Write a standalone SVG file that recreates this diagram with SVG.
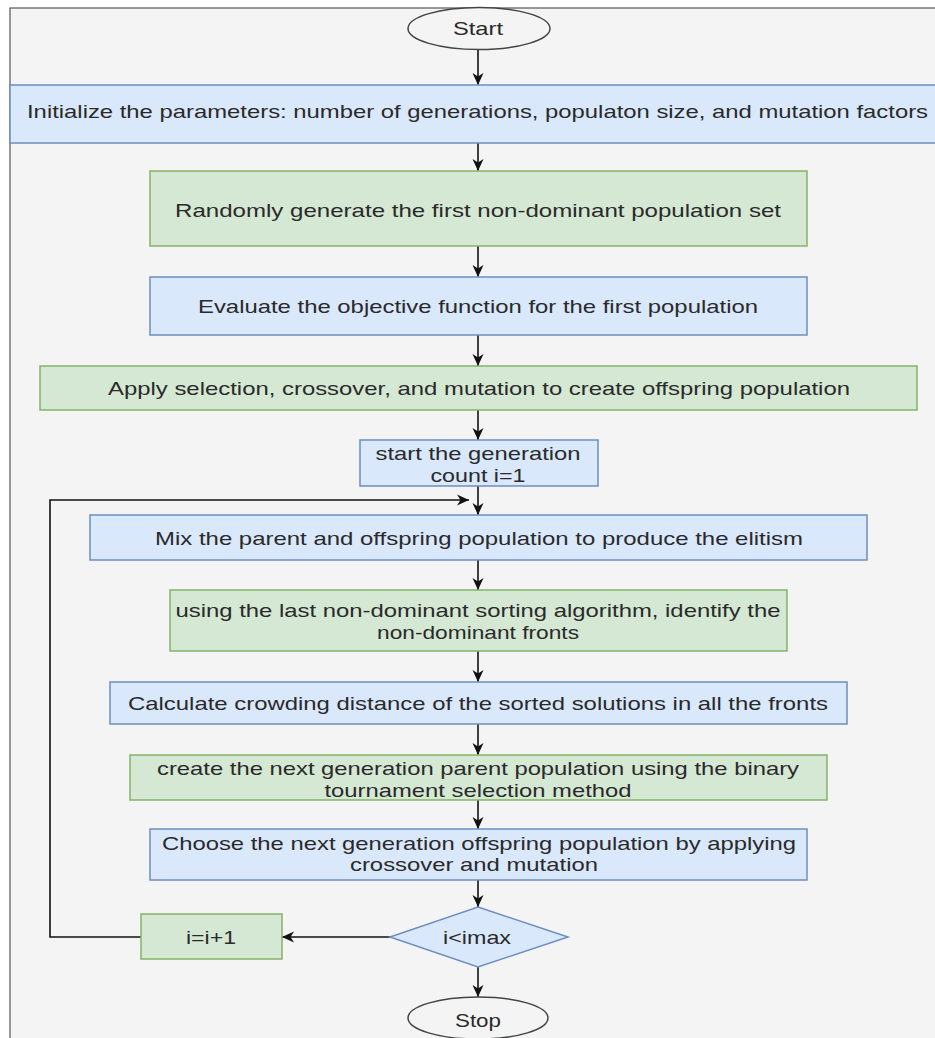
<svg xmlns="http://www.w3.org/2000/svg" width="935" height="1038" viewBox="0 0 935 1038">
<defs>
<style>
.blue{fill:#dae8fc;stroke:#6c8ebf;stroke-width:1.5}
.green{fill:#d5e8d4;stroke:#82b366;stroke-width:1.5}
.term{fill:#f4f4f4;stroke:#444444;stroke-width:1.5}
.t{font-family:"Liberation Sans",Arial,sans-serif;font-size:19px;fill:#2a2a2a;text-anchor:middle;dominant-baseline:central}
.c{fill:none;stroke:#111111;stroke-width:1.6}
</style>
<marker id="ah" viewBox="0 0 12 12" refX="12" refY="6" markerWidth="12" markerHeight="12" markerUnits="userSpaceOnUse" orient="auto">
<path d="M0,0.5 L12,6 L0,11.5 L3.5,6 Z" fill="#111111"/>
</marker>
</defs>
<rect x="0" y="0" width="935" height="1038" fill="#ffffff"/>
<rect x="10" y="8" width="940" height="1050" fill="#f4f4f4" stroke="#555555" stroke-width="1.2"/>

<g id="connectors">
<line class="c" x1="478" y1="49" x2="478" y2="85" marker-end="url(#ah)"/>
<line class="c" x1="478" y1="143" x2="478" y2="171" marker-end="url(#ah)"/>
<line class="c" x1="478" y1="246" x2="478" y2="277" marker-end="url(#ah)"/>
<line class="c" x1="478" y1="335" x2="478" y2="366" marker-end="url(#ah)"/>
<line class="c" x1="478" y1="410" x2="478" y2="440" marker-end="url(#ah)"/>
<line class="c" x1="478" y1="486" x2="478" y2="515" marker-end="url(#ah)"/>
<line class="c" x1="478" y1="560" x2="478" y2="590" marker-end="url(#ah)"/>
<line class="c" x1="478" y1="651" x2="478" y2="682" marker-end="url(#ah)"/>
<line class="c" x1="478" y1="724" x2="478" y2="755" marker-end="url(#ah)"/>
<line class="c" x1="478" y1="800" x2="478" y2="829" marker-end="url(#ah)"/>
<line class="c" x1="478" y1="880" x2="478" y2="907" marker-end="url(#ah)"/>
<line class="c" x1="390" y1="937" x2="282" y2="937" marker-end="url(#ah)"/>
<line class="c" x1="478" y1="967" x2="478" y2="997" marker-end="url(#ah)"/>
<polyline class="c" points="141,937 50,937 50,500 469,500" marker-end="url(#ah)"/>
</g>

<g id="start">
<ellipse class="term" cx="479" cy="28.5" rx="71" ry="21"/>
<text class="t" x="478" y="28" textLength="50" lengthAdjust="spacingAndGlyphs">Start</text>
</g>
<g id="init">
<rect class="blue" x="10" y="85" width="940" height="58"/>
<text class="t" x="477.5" y="111" textLength="901" lengthAdjust="spacingAndGlyphs">Initialize the parameters: number of generations, populaton size, and mutation factors</text>
</g>
<g id="random">
<rect class="green" x="150" y="171" width="657" height="75"/>
<text class="t" x="478" y="210" textLength="606" lengthAdjust="spacingAndGlyphs">Randomly generate the first non-dominant population set</text>
</g>
<g id="evaluate">
<rect class="blue" x="150" y="277" width="657" height="58"/>
<text class="t" x="478" y="306" textLength="560" lengthAdjust="spacingAndGlyphs">Evaluate the objective function for the first population</text>
</g>
<g id="apply">
<rect class="green" x="40" y="366" width="877" height="44"/>
<text class="t" x="479" y="388" textLength="742" lengthAdjust="spacingAndGlyphs">Apply selection, crossover, and mutation to create offspring population</text>
</g>
<g id="startgen">
<rect class="blue" x="360" y="440" width="238" height="46"/>
<text class="t" x="478" y="453" textLength="205" lengthAdjust="spacingAndGlyphs">start the generation</text>
<text class="t" x="478" y="475" textLength="95" lengthAdjust="spacingAndGlyphs">count i=1</text>
</g>
<g id="mix">
<rect class="blue" x="90" y="515" width="777" height="45"/>
<text class="t" x="479" y="538" textLength="648" lengthAdjust="spacingAndGlyphs">Mix the parent and offspring population to produce the elitism</text>
</g>
<g id="sorting">
<rect class="green" x="170" y="590" width="617" height="61"/>
<text class="t" x="478" y="610" textLength="605" lengthAdjust="spacingAndGlyphs">using the last non-dominant sorting algorithm, identify the</text>
<text class="t" x="478" y="632" textLength="202" lengthAdjust="spacingAndGlyphs">non-dominant fronts</text>
</g>
<g id="crowding">
<rect class="blue" x="110" y="682" width="737" height="42"/>
<text class="t" x="478" y="703" textLength="700" lengthAdjust="spacingAndGlyphs">Calculate crowding distance of the sorted solutions in all the fronts</text>
</g>
<g id="parent">
<rect class="green" x="130" y="755" width="697" height="45"/>
<text class="t" x="478" y="768" textLength="642" lengthAdjust="spacingAndGlyphs">create the next generation parent population using the binary</text>
<text class="t" x="478" y="790" textLength="307" lengthAdjust="spacingAndGlyphs">tournament selection method</text>
</g>
<g id="offspring">
<rect class="blue" x="150" y="829" width="657" height="51"/>
<text class="t" x="479" y="843" textLength="634" lengthAdjust="spacingAndGlyphs">Choose the next generation offspring population by applying</text>
<text class="t" x="474" y="864" textLength="248" lengthAdjust="spacingAndGlyphs">crossover and mutation</text>
</g>
<g id="decision">
<polygon class="blue" points="478,907 568,937 478,967 390,937"/>
<text class="t" x="477" y="937" textLength="68" lengthAdjust="spacingAndGlyphs">i&lt;imax</text>
</g>
<g id="increment">
<rect class="green" x="141" y="914" width="141" height="45"/>
<text class="t" x="211" y="937" textLength="50" lengthAdjust="spacingAndGlyphs">i=i+1</text>
</g>
<g id="stop">
<ellipse class="term" cx="478" cy="1018" rx="70" ry="21"/>
<text class="t" x="478" y="1020" textLength="46" lengthAdjust="spacingAndGlyphs">Stop</text>
</g>
</svg>
